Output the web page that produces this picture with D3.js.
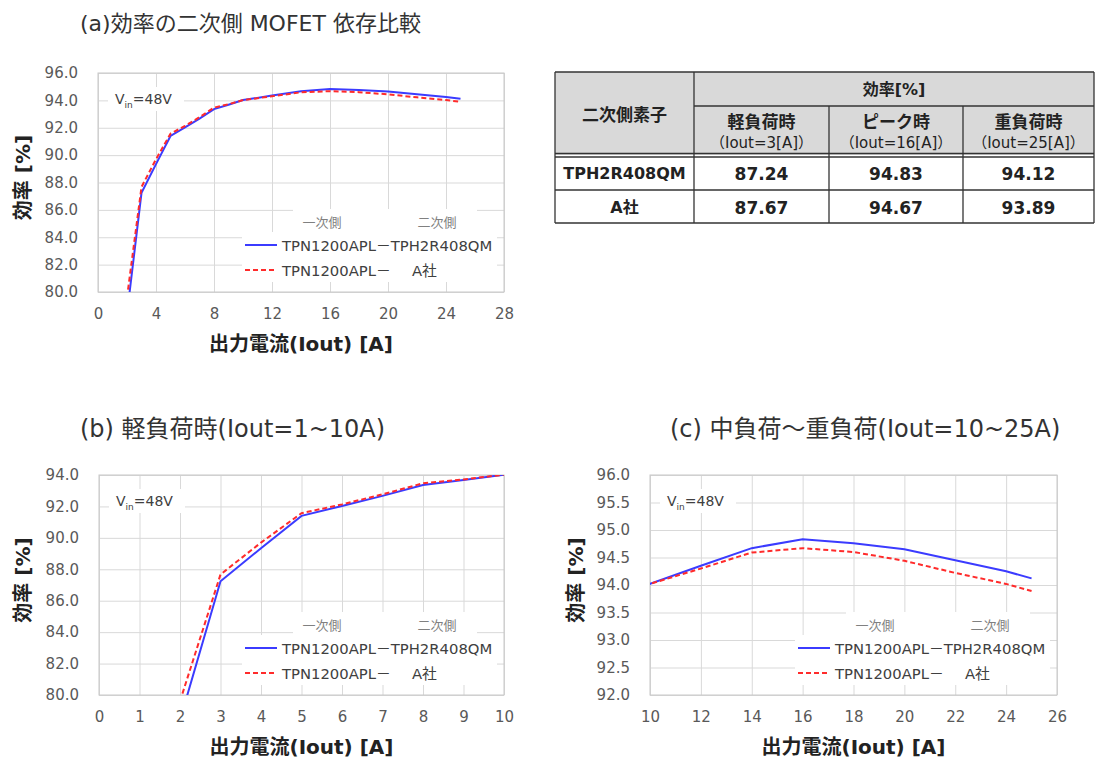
<!DOCTYPE html>
<html>
<head>
<meta charset="utf-8">
<script src="https://cdn.jsdelivr.net/npm/d3@7"></script>
<style>
  body { margin: 0; background: #fff; }
  text { font-family: "DejaVu Sans", "Noto Sans CJK JP", sans-serif; }
</style>
</head>
<body>
<div id="chart"></div>
<script>
// output current [A]
const currents = [2, 3, 4, 5, 6, 7, 8, 9, 10, 12, 14, 16, 18, 20, 22, 24, 25];
// efficiency [%]
const effTPH = [78.4, 87.24, 89.34, 91.4, 92.03, 92.67, 93.36, 93.68, 94.02, 94.35, 94.67, 94.83, 94.76, 94.65, 94.45, 94.25, 94.12];
const effA = [79.6, 87.67, 89.7, 91.57, 92.13, 92.77, 93.47, 93.72, 94.02, 94.30, 94.59, 94.67, 94.60, 94.44, 94.22, 94.02, 93.89];

const seriesNames = ['TPN1200APL－TPH2R408QM', 'TPN1200APL－'];
const seriesSuffix = ['', 'A社'];
const legendHead = ['一次側', '二次側'];

const xTicksA = [0, 4, 8, 12, 16, 20, 24, 28];
const yTicksA = [80, 82, 84, 86, 88, 90, 92, 94, 96];
const xTicksB = [0, 1, 2, 3, 4, 5, 6, 7, 8, 9, 10];
const yTicksB = [80, 82, 84, 86, 88, 90, 92, 94];
const xTicksC = [10, 12, 14, 16, 18, 20, 22, 24, 26];
const yTicksC = [92, 92.5, 93, 93.5, 94, 94.5, 95, 95.5, 96];

const tableCorner = '二次側素子';
const tableGroup = '効率[%]';
const tableCols = ['軽負荷時', 'ピーク時', '重負荷時'];
const tableSub = ['（Iout=3[A]）', '（Iout=16[A]）', '（Iout=25[A]）'];
const tableRows = ['TPH2R408QM', 'A社'];
const tableValues = [[87.24, 94.83, 94.12], [87.67, 94.67, 93.89]];

const svg = d3.select('#chart').append('svg')
    .attr('width', 1096)
    .attr('height', 760);

const data = currents.map((c, i) => ({ x: c, tph: effTPH[i], a: effA[i] }));

function drawPanel (p) {
    const x = d3.scaleLinear().domain(p.xDomain).range([p.left, p.left + p.w]);
    const y = d3.scaleLinear().domain(p.yDomain).range([p.top + p.h, p.top]);
    const g = svg.append('g');

    svg.append('clipPath').attr('id', p.id + '-clip')
        .append('rect')
        .attr('x', p.left).attr('y', p.top)
        .attr('width', p.w).attr('height', p.h);

    /* GRID */
    g.append('g')
        .attr('transform', `translate(0, ${p.top + p.h})`)
        .call(d3.axisBottom(x).tickValues(p.xTicks).tickSize(-p.h).tickFormat(''))
        .call(s => s.select('.domain').remove())
        .selectAll('line').attr('stroke', '#d9d9d9');
    g.append('g')
        .attr('transform', `translate(${p.left}, 0)`)
        .call(d3.axisLeft(y).tickValues(p.yTicks).tickSize(-p.w).tickFormat(''))
        .call(s => s.select('.domain').remove())
        .selectAll('line').attr('stroke', '#d9d9d9');

    g.append('rect')
        .attr('x', p.left).attr('y', p.top)
        .attr('width', p.w).attr('height', p.h)
        .attr('fill', 'none')
        .attr('stroke', '#c8c8c8');

    /* AXES LABELS */
    g.append('g')
        .attr('transform', `translate(0, ${p.top + p.h})`)
        .call(d3.axisBottom(x).tickValues(p.xTicks).tickSize(0).tickPadding(16))
        .call(s => s.select('.domain').remove())
        .selectAll('text')
        .style('font-size', '15px')
        .attr('fill', '#595959');
    g.append('g')
        .attr('transform', `translate(${p.left}, 0)`)
        .call(d3.axisLeft(y).tickValues(p.yTicks).tickSize(0).tickPadding(20).tickFormat(d3.format('.1f')))
        .call(s => s.select('.domain').remove())
        .selectAll('text')
        .style('font-size', '15px')
        .attr('fill', '#595959');

    svg.append('text')
        .attr('transform', `translate(${p.yTitleX}, ${p.top + p.h / 2 - 5}) rotate(-90)`)
        .attr('text-anchor', 'middle')
        .attr('dominant-baseline', 'central')
        .style('font-size', '20px')
        .style('font-weight', 'bold')
        .attr('fill', '#222')
        .text('効率 [%]');

    svg.append('text')
        .attr('x', p.left + p.w / 2)
        .attr('y', p.top + p.h + 52)
        .attr('text-anchor', 'middle')
        .attr('dominant-baseline', 'central')
        .style('font-size', '20px')
        .style('font-weight', 'bold')
        .attr('fill', '#222')
        .text('出力電流(Iout) [A]');

    svg.append('text')
        .attr('x', p.titleX)
        .attr('y', p.titleY)
        .style('font-size', p.titleSize)
        .attr('fill', '#333')
        .text(p.title);

    /* Vin LABEL */
    g.append('rect')
        .attr('x', p.left + 10).attr('y', p.top + 14)
        .attr('width', 76).attr('height', 24)
        .attr('fill', '#fff');
    const vin = g.append('text')
        .attr('x', p.left + 17)
        .attr('y', p.top + 31)
        .style('font-size', '14px')
        .attr('fill', '#404040');
    vin.append('tspan').text('V');
    vin.append('tspan').attr('dy', 4).style('font-size', '9px').text('in');
    vin.append('tspan').attr('dy', -4).text('=48V');

    /* LEGEND */
    const lx = p.left + p.w - 262;
    const ly = p.top + p.h - 60;
    const legend = g.append('g');
    legend.append('rect')
        .attr('x', lx + 51).attr('y', ly - 23)
        .attr('width', 184).attr('height', 23)
        .attr('fill', '#fff');
    legend.append('rect')
        .attr('x', lx).attr('y', ly)
        .attr('width', 255).attr('height', 50)
        .attr('fill', '#fff');
    legend.selectAll('.head')
        .data(legendHead).enter()
        .append('text')
        .attr('x', (d, i) => lx + 80 + i * 115)
        .attr('y', ly - 10)
        .attr('text-anchor', 'middle')
        .attr('dominant-baseline', 'central')
        .style('font-size', '13px')
        .attr('fill', '#808080')
        .text(d => d);
    [['#3b3bff', null], ['#ff2b2b', '5,3']].forEach((s, i) => {
        const yy = ly + 13 + i * 25;
        legend.append('line')
            .attr('x1', lx + 3).attr('x2', lx + 35)
            .attr('y1', yy).attr('y2', yy)
            .attr('stroke', s[0])
            .attr('stroke-width', 2)
            .attr('stroke-dasharray', s[1]);
        legend.append('text')
            .attr('x', lx + 40).attr('y', yy)
            .attr('dominant-baseline', 'central')
            .style('font-size', '14.8px')
            .attr('fill', '#404040')
            .text(seriesNames[i]);
        legend.append('text')
            .attr('x', lx + 170).attr('y', yy)
            .attr('dominant-baseline', 'central')
            .style('font-size', '14.8px')
            .attr('fill', '#404040')
            .text(seriesSuffix[i]);
    });

    /* LINES */
    const lines = g.append('g').attr('clip-path', `url(#${p.id}-clip)`);
    lines.append('path')
        .datum(data)
        .attr('fill', 'none')
        .attr('stroke', '#3b3bff')
        .attr('stroke-width', 2)
        .attr('d', d3.line().x(d => x(d.x)).y(d => y(d.tph)));
    lines.append('path')
        .datum(data)
        .attr('fill', 'none')
        .attr('stroke', '#ff2b2b')
        .attr('stroke-width', 2)
        .attr('stroke-dasharray', '5,3')
        .attr('d', d3.line().x(d => x(d.x)).y(d => y(d.a)));
}

drawPanel({
    id: 'a', left: 98, top: 73, w: 406, h: 219,
    xDomain: [0, 28], xTicks: xTicksA, yDomain: [80, 96], yTicks: yTicksA,
    yTitleX: 23, title: '(a)効率の二次側 MOFET 依存比較', titleX: 80, titleY: 31, titleSize: '22px'
});
drawPanel({
    id: 'b', left: 99, top: 475, w: 405, h: 220,
    xDomain: [0, 10], xTicks: xTicksB, yDomain: [80, 94], yTicks: yTicksB,
    yTitleX: 23, title: '(b) 軽負荷時(Iout=1~10A)', titleX: 80, titleY: 437, titleSize: '24px'
});
drawPanel({
    id: 'c', left: 650, top: 475, w: 407, h: 220,
    xDomain: [10, 26], xTicks: xTicksC, yDomain: [92, 96], yTicks: yTicksC,
    yTitleX: 576, title: '(c) 中負荷～重負荷(Iout=10~25A)', titleX: 670, titleY: 437, titleSize: '24px'
});

/* TABLE */
const colX = [555, 694, 829, 963, 1094];
const rowY = [72, 106, 155, 190, 223];
const table = svg.append('g')
    .style('font-family', '"Liberation Sans", "Noto Sans CJK JP", sans-serif');

table.append('rect')
    .attr('x', colX[0]).attr('y', rowY[0])
    .attr('width', colX[4] - colX[0]).attr('height', rowY[2] - rowY[0])
    .attr('fill', '#d9d9d9');

const tline = (x1, y1, x2, y2, w) => table.append('line')
    .attr('x1', x1).attr('y1', y1).attr('x2', x2).attr('y2', y2)
    .attr('stroke', '#333').attr('stroke-width', w || 1.3);

tline(colX[0], rowY[0], colX[4], rowY[0]);
tline(colX[1], rowY[1], colX[4], rowY[1]);
tline(colX[0], rowY[2] - 1.5, colX[4], rowY[2] - 1.5);
tline(colX[0], rowY[2] + 2, colX[4], rowY[2] + 2);
tline(colX[0], rowY[3], colX[4], rowY[3]);
tline(colX[0], rowY[4], colX[4], rowY[4], 1.6);
tline(colX[0], rowY[0], colX[0], rowY[4]);
tline(colX[1], rowY[0], colX[1], rowY[4]);
tline(colX[2], rowY[1], colX[2], rowY[4]);
tline(colX[3], rowY[1], colX[3], rowY[4]);
tline(colX[4], rowY[0], colX[4], rowY[4]);

table.append('text')
    .attr('x', (colX[0] + colX[1]) / 2).attr('y', 115)
    .attr('text-anchor', 'middle').attr('dominant-baseline', 'central')
    .style('font-size', '17px').style('font-weight', 'bold')
    .attr('fill', '#222')
    .text(tableCorner);

table.append('text')
    .attr('x', (colX[1] + colX[4]) / 2).attr('y', 89)
    .attr('text-anchor', 'middle').attr('dominant-baseline', 'central')
    .style('font-size', '16px').style('font-weight', 'bold')
    .attr('fill', '#222')
    .text(tableGroup);

tableCols.forEach((c, i) => {
    const cx = (colX[i + 1] + colX[i + 2]) / 2;
    table.append('text')
        .attr('x', cx).attr('y', 122)
        .attr('text-anchor', 'middle').attr('dominant-baseline', 'central')
        .style('font-size', '17px').style('font-weight', 'bold')
        .attr('fill', '#222')
        .text(c);
    table.append('text')
        .attr('x', cx).attr('y', 143)
        .attr('text-anchor', 'middle').attr('dominant-baseline', 'central')
        .style('font-size', '15px')
        .attr('fill', '#222')
        .text(tableSub[i]);
});

tableRows.forEach((r, j) => {
    const cy = (rowY[j + 2] + rowY[j + 3]) / 2 + 1;
    table.append('text')
        .attr('x', (colX[0] + colX[1]) / 2).attr('y', cy)
        .attr('text-anchor', 'middle').attr('dominant-baseline', 'central')
        .style('font-size', '16px').style('font-weight', 'bold')
        .attr('fill', '#222')
        .text(r);
    tableValues[j].forEach((v, i) => {
        table.append('text')
            .attr('x', (colX[i + 1] + colX[i + 2]) / 2).attr('y', cy)
            .attr('text-anchor', 'middle').attr('dominant-baseline', 'central')
            .style('font-size', '17px').style('font-weight', 'bold')
            .attr('fill', '#222')
            .text(d3.format('.2f')(v));
    });
});
</script>
</body>
</html>
